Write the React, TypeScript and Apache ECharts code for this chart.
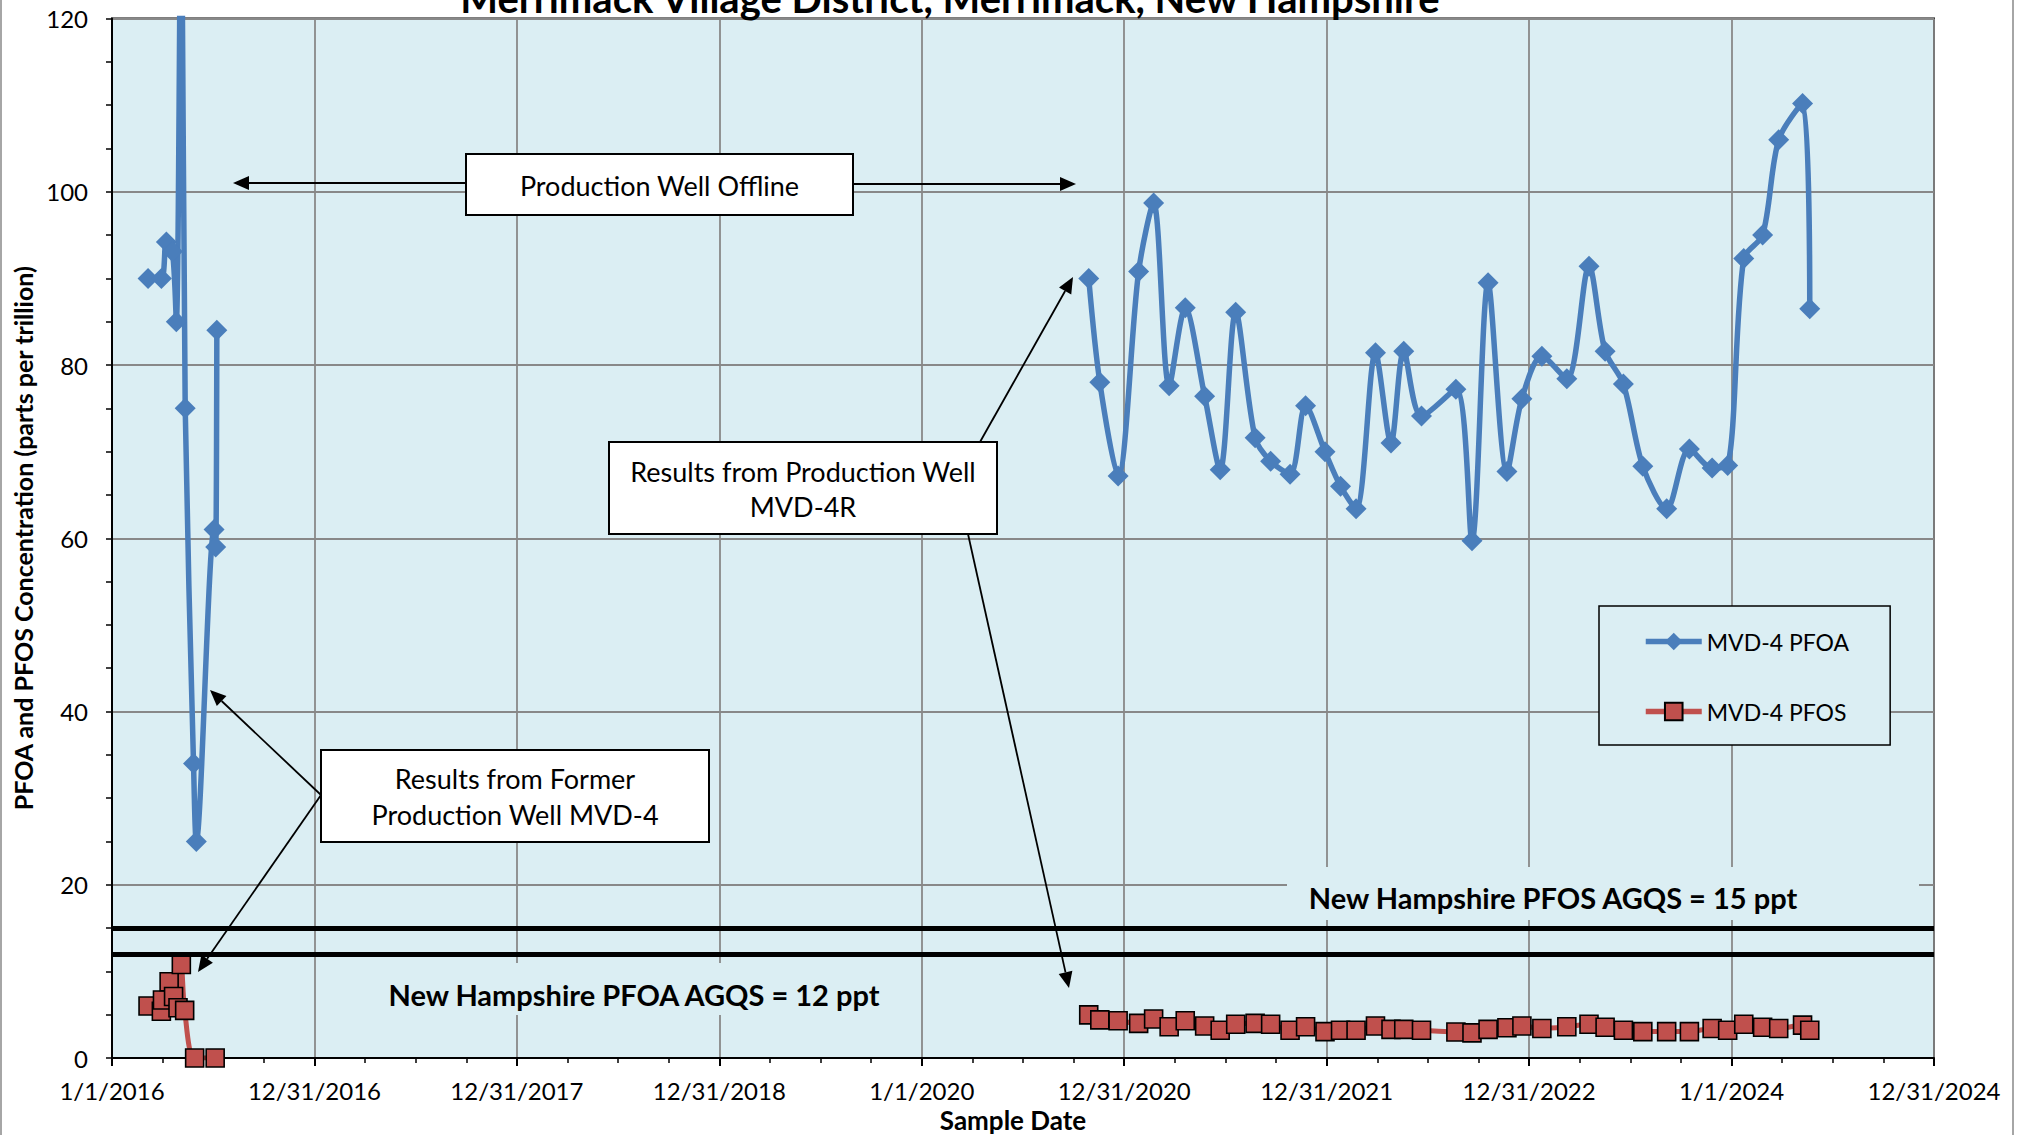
import React, { useEffect, useRef } from "react";
import * as echarts from "echarts";

// ---- axis ticks ----
const xTickLabels = [
  "1/1/2016", "12/31/2016", "12/31/2017", "12/31/2018", "1/1/2020",
  "12/31/2020", "12/31/2021", "12/31/2022", "1/1/2024", "12/31/2024",
];
const daysPerTick = 365;
const yTicks = { min: 0, max: 120, interval: 20 };

// ---- data: days since 1/1/2016 ----
// former production well MVD-4
const earlyPfoaDays = [65, 89, 98, 109, 116, 125, 132, 147, 152, 184, 187, 189];
const earlyPfoa = [90, 90, 94.2, 93.1, 85, 140, 75, 34, 25, 61, 59, 84];
const earlyPfosDays = [65, 89, 91, 103, 111, 119, 125, 131, 149, 186];
const earlyPfos = [6.0, 5.4, 6.7, 8.8, 7.1, 5.8, 10.8, 5.5, 0, 0];

// production well MVD-4R
const laterDays = [
  1761, 1781, 1814, 1851, 1878, 1906, 1935, 1970, 1998, 2026,
  2061, 2089, 2124, 2152, 2187, 2215, 2243, 2278, 2306, 2329,
  2361, 2423, 2452, 2481, 2515, 2542, 2578, 2623, 2663, 2692,
  2725, 2760, 2803, 2844, 2885, 2913, 2942, 2976, 3005, 3048,
  3061,
];
const laterPfoa = [
  90, 78, 67.2, 90.8, 98.7, 77.6, 86.6, 76.4, 67.9, 86.1,
  71.6, 68.9, 67.4, 75.3, 70, 66, 63.4, 81.4, 71, 81.6,
  74.1, 77.2, 59.7, 89.5, 67.7, 76.1, 81, 78.4, 91.4, 81.6,
  77.8, 68.3, 63.4, 70.3, 68.1, 68.4, 92.3, 95, 106, 110.2,
  86.5,
];
const laterPfos = [
  4.98, 4.4, 4.3, 4.0, 4.5, 3.6, 4.3, 3.7, 3.2, 3.9,
  4.0, 3.9, 3.2, 3.6, 3.05, 3.2, 3.2, 3.7, 3.3, 3.3,
  3.2, 3.0, 2.9, 3.3, 3.5, 3.7, 3.4, 3.6, 3.9, 3.55,
  3.2, 3.05, 3.05, 3.05, 3.4, 3.2, 3.9, 3.55, 3.4, 3.8,
  3.2,
];

// groundwater quality standards (ppt)
const agqsLevels = [15, 12];

const seriesNames = ["MVD-4 PFOA", "MVD-4 PFOS"];

const pair = (xs: number[], ys: number[]) => xs.map((x, i) => [x, ys[i]]);

const FONT = "Lato, 'Open Sans', sans-serif";
const BLUE = "#4A7EBB";
const RED = "#C0504D";
const PLOT_BG = "#DBEEF3";

function arrow(x1: number, y1: number, x2: number, y2: number, len = 16, half = 7) {
  const dx = x2 - x1;
  const dy = y2 - y1;
  const L = Math.hypot(dx, dy);
  const ux = dx / L;
  const uy = dy / L;
  const bx = x2 - ux * len;
  const by = y2 - uy * len;
  return [
    { type: "line", z: 20, shape: { x1, y1, x2: bx, y2: by }, style: { stroke: "#000", lineWidth: 1.8 } },
    {
      type: "polygon",
      z: 20,
      shape: { points: [[x2, y2], [bx - uy * half, by + ux * half], [bx + uy * half, by - ux * half]] },
      style: { fill: "#000" },
    },
  ];
}

function box(x: number, y: number, w: number, h: number) {
  return { type: "rect", z: 20, shape: { x, y, width: w, height: h }, style: { fill: "#fff", stroke: "#000", lineWidth: 2 } };
}

function label(x: number, y: number, text: string, size: number, bold = false, lineHeight?: number) {
  return {
    type: "text",
    z: 21,
    x,
    y,
    style: {
      text,
      fill: "#000",
      fontFamily: FONT,
      fontSize: size,
      fontWeight: bold ? "bold" : "normal",
      align: "center",
      verticalAlign: "middle",
      lineHeight: lineHeight ?? Math.round(size * 1.2),
    },
  };
}

export default function App() {
  const ref = useRef<HTMLDivElement>(null);

  useEffect(() => {
    if (!ref.current) return;
    const chart = echarts.init(ref.current, null, { renderer: "svg" });

    const pfoaStyle = {
      type: "line",
      name: seriesNames[0],
      smooth: 0.3,
      symbol: "diamond",
      symbolSize: 21,
      itemStyle: { color: BLUE },
      lineStyle: { color: BLUE, width: 5.5 },
      z: 3,
      clip: true,
    };
    const pfosStyle = {
      type: "line",
      name: seriesNames[1],
      smooth: 0.3,
      symbol: "rect",
      symbolSize: 18,
      itemStyle: { color: RED, borderColor: "#000", borderWidth: 1.6 },
      lineStyle: { color: RED, width: 5 },
      z: 4,
      clip: true,
    };

    const option: any = {
      animation: false,
      backgroundColor: "#fff",
      textStyle: { fontFamily: FONT },
      grid: {
        left: 112,
        right: 90,
        top: 18.5,
        bottom: 77,
        containLabel: false,
        outerBoundsMode: "none",
        show: true,
        backgroundColor: PLOT_BG,
        borderColor: "#000",
        borderWidth: 2,
      },
      legend: {
        data: seriesNames,
        orient: "vertical",
        left: 1599,
        top: 606,
        padding: [24, 41, 22, 44],
        itemGap: 47,
        itemWidth: 56,
        itemHeight: 22,
        backgroundColor: PLOT_BG,
        borderColor: "#000",
        borderWidth: 1.5,
        lineStyle: { width: 5.5 },
        textStyle: { fontFamily: FONT, fontSize: 23, color: "#000" },
        z: 30,
      },
      xAxis: {
        type: "value",
        min: 0,
        max: daysPerTick * (xTickLabels.length - 1),
        interval: daysPerTick,
        name: "Sample Date",
        nameLocation: "middle",
        nameGap: 43,
        nameTextStyle: { fontFamily: FONT, fontSize: 26, fontWeight: "bold", color: "#000", padding: [0, 20, 0, 0] },
        axisLine: { show: true, onZero: false, lineStyle: { color: "#000", width: 2 } },
        axisTick: { show: true, length: 8, lineStyle: { color: "#000", width: 2 } },
        minorTick: { show: true, splitNumber: 4, length: 5, lineStyle: { color: "#000", width: 1.5 } },
        axisLabel: {
          margin: 20,
          fontFamily: FONT,
          fontSize: 24,
          color: "#000",
          formatter: (v: number) => xTickLabels[Math.round(v / daysPerTick)] ?? "",
        },
        splitLine: { show: true, lineStyle: { color: "#888", width: 1.8 } },
      },
      yAxis: {
        type: "value",
        min: yTicks.min,
        max: yTicks.max,
        interval: yTicks.interval,
        name: "PFOA and PFOS Concentration (parts per trillion)",
        nameLocation: "middle",
        nameRotate: 90,
        nameGap: 74,
        nameTextStyle: { fontFamily: FONT, fontSize: 25, fontWeight: "bold", color: "#000" },
        axisLine: { show: true, lineStyle: { color: "#000", width: 2 } },
        axisTick: { show: true, length: 6, lineStyle: { color: "#000", width: 1.5 } },
        minorTick: { show: true, splitNumber: 4, length: 6, lineStyle: { color: "#000", width: 1.5 } },
        axisLabel: { margin: 24, fontFamily: FONT, fontSize: 24, color: "#000" },
        splitLine: { show: true, lineStyle: { color: "#888", width: 1.8 } },
      },
      series: [
        { ...pfoaStyle, data: pair(earlyPfoaDays, earlyPfoa) },
        { ...pfoaStyle, data: pair(laterDays, laterPfoa) },
        { ...pfosStyle, data: pair(earlyPfosDays, earlyPfos) },
        {
          ...pfosStyle,
          data: pair(laterDays, laterPfos),
          markLine: {
            silent: true,
            symbol: "none",
            label: { show: false },
            lineStyle: { color: "#000", width: 5, type: "solid" },
            data: agqsLevels.map((v) => ({ yAxis: v })),
            z: 5,
          },
        },
      ],
      graphic: [
        // outer chart border
        { type: "rect", z: 1, shape: { x: 1, y: -10, width: 2012, height: 1160 }, style: { fill: "none", stroke: "#A6A6A6", lineWidth: 2 } },
        // title (partly cut at top)
        label(950, -2, "Merrimack Village District, Merrimack, New Hampshire", 40, true),
        // AGQS labels
        { type: "rect", z: 19, shape: { x: 1287, y: 867, width: 632, height: 53 }, style: { fill: PLOT_BG } },
        label(1553, 897, "New Hampshire PFOS AGQS = 15 ppt", 29, true),
        { type: "rect", z: 19, shape: { x: 340, y: 963, width: 565, height: 52 }, style: { fill: PLOT_BG } },
        label(634, 994, "New Hampshire PFOA AGQS = 12 ppt", 29, true),
        // offline annotation
        box(466, 154, 387, 61),
        label(659.5, 185, "Production Well Offline", 27),
        ...arrow(466, 183, 233, 183),
        ...arrow(853, 184, 1076, 184),
        // MVD-4R annotation
        box(609, 442, 388, 92),
        label(803, 489, "Results from Production Well\nMVD-4R", 27, false, 35),
        ...arrow(980, 442, 1073, 277),
        ...arrow(968, 534, 1069, 988),
        // former well annotation
        box(321, 750, 388, 92),
        label(515, 796, "Results from Former\nProduction Well MVD-4", 27, false, 36),
        ...arrow(321, 795, 210, 690),
        ...arrow(321, 795, 198, 972),
      ],
    };

    chart.setOption(option);
    return () => chart.dispose();
  }, []);

  return (
    <div
      ref={ref}
      style={{ position: "absolute", left: 0, top: 0, width: 2024, height: 1135, background: "#fff" }}
    />
  );
}
